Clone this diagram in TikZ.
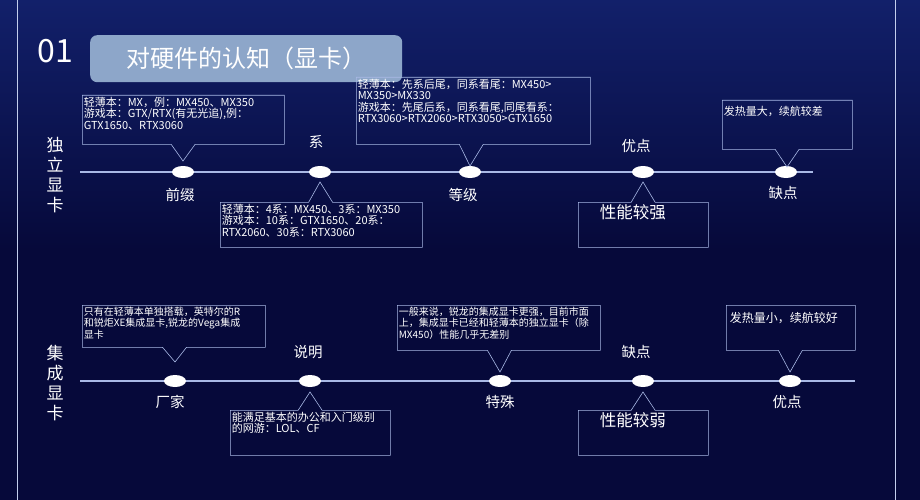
\documentclass[tikz,border=0pt]{standalone}
\usepackage{fontspec}
\setmainfont{Noto Sans CJK SC}
\usetikzlibrary{shapes.geometric, shapes.callouts, calc}
\definecolor{bgNavy}{HTML}{06093A}
\definecolor{bgGlow}{HTML}{12206A}
\definecolor{lineBlue}{HTML}{A9B9E6}
\definecolor{titleBox}{HTML}{8DA6C9}
\newcommand{\boxtext}[3]{\begin{minipage}[t][#2pt][t]{#1pt}#3\end{minipage}}
\tikzset{
  dot/.style={ellipse, fill=white, minimum width=22pt, minimum height=12pt, inner sep=0pt},
  axis/.style={lineBlue, line width=1.2pt},
  tag/.style={text=white, font=\fontsize{14.5}{16}\selectfont},
  side/.style={text=white, font=\fontsize{17}{20}\selectfont, align=center},
  note/.style={rectangle callout, draw=lineBlue, line width=0.6pt, text=white, inner sep=1.5pt,
    callout pointer width=24pt, font=\fontsize{11}{11.5}\selectfont, anchor=north west}
}
\begin{document}
\begin{tikzpicture}[x=1pt, y=-1pt]
\useasboundingbox (0,0) rectangle (920,500);
\shade[top color=bgGlow, bottom color=bgNavy, middle color=bgNavy] (0,0) rectangle (920,500);
\draw[lineBlue!70, line width=0.8pt] (17,-5) -- (17,505);
\draw[lineBlue!70, line width=0.8pt] (895,-5) -- (895,505);
% title
\node[text=white, font=\fontsize{32}{34}\selectfont] (num) at (55,51) {01};
\node[fill=titleBox, rounded corners=7pt, minimum width=312pt, minimum height=47pt, anchor=north west,
  text=white, font=\fontsize{24}{28}\selectfont] (title) at (90,35) {对硬件的认知（显卡）};
% discrete card
\node[side] (s1) at (55,175) {独\\立\\显\\卡};
\coordinate (a1) at (80,172);
\coordinate (b1) at (813,172);
\draw[axis] (a1) -- (b1);
\node[dot] (d11) at (183,172) {};
\node[dot] (d12) at (320,172) {};
\node[dot] (d13) at (470,172) {};
\node[dot] (d14) at (643,172) {};
\node[dot] (d15) at (786,172) {};
\node[tag] (t11) at (180,195) {前缀};
\node[tag] (t12) at (316,142) {系};
\node[tag] (t13) at (463,195) {等级};
\node[tag] (t14) at (636,146) {优点};
\node[tag] (t15) at (783,193) {缺点};
\node[note, callout absolute pointer={(183,161)}] (n11) at (82,95)
  {\boxtext{199}{46}{轻薄本：MX，例：MX450、MX350\\游戏本：GTX/RTX(有无光追),例：\\GTX1650、RTX3060}};
\node[note, callout absolute pointer={(320,182)}] (n12) at (220,202)
  {\boxtext{199}{42}{轻薄本：4系：MX450、3系：MX350\\游戏本：10系：GTX1650、20系：\\RTX2060、30系：RTX3060}};
\node[note, callout absolute pointer={(470,166)}] (n13) at (356,77)
  {\boxtext{231}{64}{轻薄本：先系后尾，同系看尾：MX450>\\MX350>MX330\\游戏本：先尾后系，同系看尾,同尾看系：\\RTX3060>RTX2060>RTX3050>GTX1650}};
\node[note, callout absolute pointer={(643,182)}, font=\fontsize{16.5}{18}\selectfont] (n14) at (578,202)
  {\boxtext{127}{42}{\vspace{1pt}\hspace*{20pt}性能较强}};
\node[note, callout absolute pointer={(787,167)}] (n15) at (722,100)
  {\boxtext{127}{46}{\vspace{4pt}发热量大，续航较差}};
% integrated card
\node[side] (s2) at (55,383) {集\\成\\显\\卡};
\coordinate (a2) at (80,381);
\coordinate (b2) at (855,381);
\draw[axis] (a2) -- (b2);
\node[dot] (d21) at (175,381) {};
\node[dot] (d22) at (310,381) {};
\node[dot] (d23) at (500,381) {};
\node[dot] (d24) at (643,381) {};
\node[dot] (d25) at (790,381) {};
\node[tag] (t21) at (170,402) {厂家};
\node[tag] (t22) at (308,352) {说明};
\node[tag] (t23) at (500,402) {特殊};
\node[tag] (t24) at (636,352) {缺点};
\node[tag] (t25) at (787,402) {优点};
\node[note, callout absolute pointer={(175,362)}, font=\fontsize{10}{11.5}\selectfont] (n21) at (82,305)
  {\boxtext{180}{39}{只有在轻薄本单独搭载，英特尔的R\\和锐炬XE集成显卡,锐龙的Vega集成\\显卡}};
\node[note, callout absolute pointer={(310,392)}] (n22) at (230,410)
  {\boxtext{157}{42}{能满足基本的办公和入门级别\\的网游：LOL、CF}};
\node[note, callout absolute pointer={(500,372)}, font=\fontsize{10}{11.5}\selectfont] (n23) at (397,305)
  {\boxtext{200}{42}{一般来说，锐龙的集成显卡更强，目前市面\\上，集成显卡已经和轻薄本的独立显卡（除\\MX450）性能几乎无差别}};
\node[note, callout absolute pointer={(643,392)}, font=\fontsize{16.5}{18}\selectfont] (n24) at (578,410)
  {\boxtext{127}{42}{\vspace{1pt}\hspace*{20pt}性能较弱}};
\node[note, callout absolute pointer={(790,372)}, font=\fontsize{12}{14}\selectfont] (n25) at (726,305)
  {\boxtext{126}{42}{\vspace{5pt}\hspace*{2pt}发热量小，续航较好}};
\end{tikzpicture}
\end{document}
